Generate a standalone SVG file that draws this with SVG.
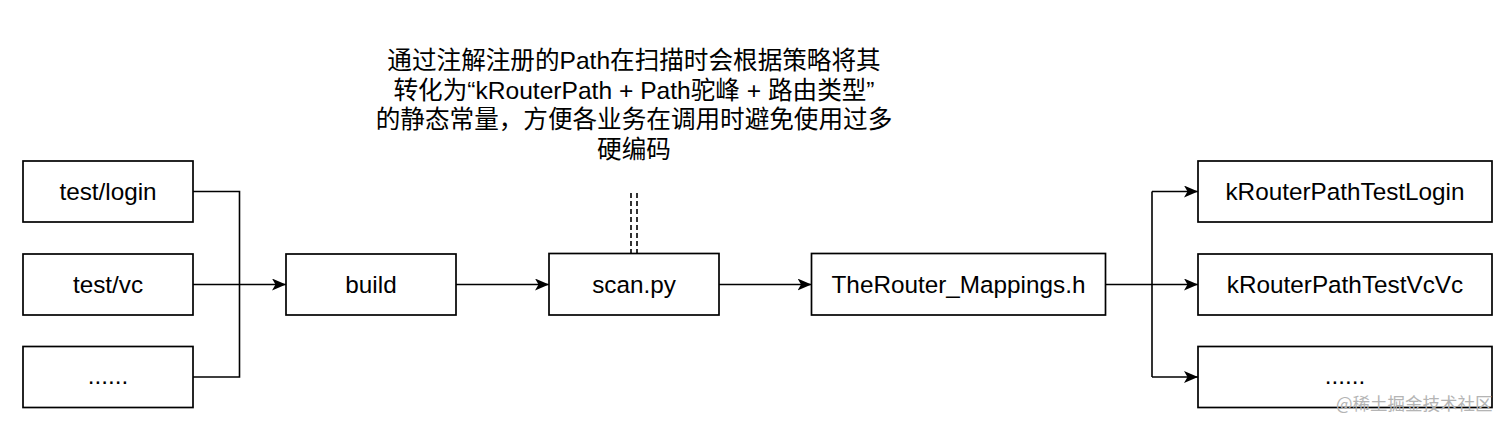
<svg xmlns="http://www.w3.org/2000/svg" width="1512" height="430" viewBox="0 0 1512 430">
  <style>
    .box { fill: #ffffff; stroke: #000000; stroke-width: 1.7; }
    .lbl { font-family: "Liberation Sans", Arial, sans-serif; font-size: 24.3px; fill: #000000; text-anchor: middle; }
    .note { font-family: "Liberation Sans", "Noto Sans CJK SC", sans-serif; font-size: 24.6px; fill: #000000; text-anchor: middle; }
    .edge { fill: none; stroke: #000000; stroke-width: 1.6; }
    .dash { fill: none; stroke: #000000; stroke-width: 1.6; stroke-dasharray: 5 3; }
    .wm { font-family: "Noto Sans CJK SC", sans-serif; font-size: 17.5px; fill: #b4b4b4; }
  </style>
  <defs>
    <marker id="arr" viewBox="0 0 14 12" refX="14" refY="6" markerWidth="14" markerHeight="12" markerUnits="userSpaceOnUse" orient="auto">
      <path d="M0,0 L14,6 L0,12 L3.5,6 Z" fill="#000000"/>
    </marker>
  </defs>
  <rect width="1512" height="430" fill="#ffffff"/>

  <g id="connectors">
    <path class="edge" d="M193,191.5 H239.5 V377 H193"/>
    <path class="edge" d="M193,284.5 H286" marker-end="url(#arr)"/>
    <path class="edge" d="M456,284.5 H549" marker-end="url(#arr)"/>
    <path class="edge" d="M719,284.5 H811.5" marker-end="url(#arr)"/>
    <path class="edge" d="M1105.5,284.5 H1198" marker-end="url(#arr)"/>
    <path class="edge" d="M1152,191.5 H1198" marker-end="url(#arr)"/>
    <path class="edge" d="M1152,377 H1198" marker-end="url(#arr)"/>
    <path class="edge" d="M1152,191.5 V377"/>
    <path class="dash" d="M631,193 V253"/>
    <path class="dash" d="M637,193 V253"/>
  </g>

  <g id="note">
    <text class="note" x="634" y="69">通过注解注册的Path在扫描时会根据策略将其</text>
    <text class="note" x="634" y="98.5">转化为“kRouterPath + Path驼峰 + 路由类型”</text>
    <text class="note" x="634" y="128">的静态常量，方便各业务在调用时避免使用过多</text>
    <text class="note" x="634" y="157.5">硬编码</text>
  </g>

  <g id="node-test-login">
    <rect class="box" x="23" y="161" width="170" height="61"/>
    <text class="lbl" x="108" y="199.5">test/login</text>
  </g>
  <g id="node-test-vc">
    <rect class="box" x="23" y="254" width="170" height="61"/>
    <text class="lbl" x="108" y="292.5">test/vc</text>
  </g>
  <g id="node-more-left">
    <rect class="box" x="23" y="346.5" width="170" height="61"/>
    <text class="lbl" x="108" y="384">......</text>
  </g>
  <g id="node-build">
    <rect class="box" x="286" y="254" width="170" height="61"/>
    <text class="lbl" x="371" y="292.5">build</text>
  </g>
  <g id="node-scan">
    <rect class="box" x="549" y="253.5" width="170" height="61.5"/>
    <text class="lbl" x="634" y="292.5">scan.py</text>
  </g>
  <g id="node-mappings">
    <rect class="box" x="811.5" y="253.5" width="294" height="61.5"/>
    <text class="lbl" x="958.5" y="292.5">TheRouter_Mappings.h</text>
  </g>
  <g id="node-login-const">
    <rect class="box" x="1198" y="161" width="294" height="61"/>
    <text class="lbl" x="1345" y="199.5">kRouterPathTestLogin</text>
  </g>
  <g id="node-vc-const">
    <rect class="box" x="1198" y="254" width="294" height="61"/>
    <text class="lbl" x="1345" y="292.5">kRouterPathTestVcVc</text>
  </g>
  <g id="node-more-right">
    <rect class="box" x="1198" y="346.5" width="294" height="61"/>
    <text class="lbl" x="1345" y="384">......</text>
  </g>

  <text class="wm" x="1336" y="410">@稀土掘金技术社区</text>
</svg>
